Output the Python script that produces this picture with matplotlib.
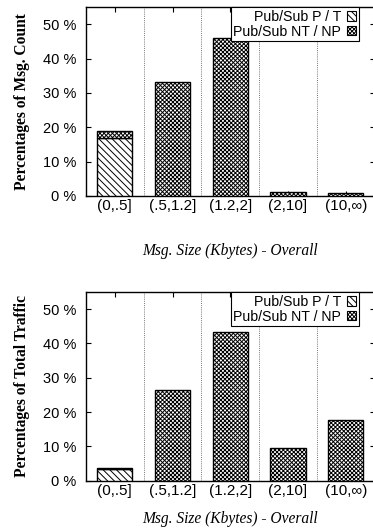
import matplotlib
matplotlib.use("Agg")
import matplotlib.pyplot as plt
from matplotlib.patches import Patch
import numpy as np

# Data
categories = ['(0,.5]', '(.5,1.2]', '(1.2,2]', '(2,10]', '(10,\u221e)']
count_pt = [17.0, 0.0, 0.0, 0.0, 0.0]
count_ntnp = [2.0, 33.1, 45.9, 1.3, 0.8]
traffic_pt = [3.3, 0.0, 0.0, 0.0, 0.0]
traffic_ntnp = [0.3, 26.4, 43.4, 9.4, 17.6]
y_ticks = [0, 10, 20, 30, 40, 50]

plt.rcParams['font.family'] = ['Liberation Sans', 'DejaVu Sans']
plt.rcParams['hatch.linewidth'] = 0.7
plt.rcParams['hatch.color'] = 'black'

fig = plt.figure(figsize=(3.73, 5.31), dpi=100)
ax_top = fig.add_axes([0.2306, 0.6309, 0.7737, 0.3559])
ax_bot = fig.add_axes([0.2306, 0.0947, 0.7737, 0.3554])

HATCH_PT = '\\\\\\\\\\'
HATCH_NT = 'xxxxxxxx'


def draw_panel(ax, pt, ntnp, ylabel, xlabelpad):
    x = np.arange(len(categories))
    width = 0.61
    ax.bar(x, pt, width, color='white', edgecolor='black', hatch=HATCH_PT, linewidth=1.0, zorder=3)
    ax.bar(x, ntnp, width, bottom=pt, color='white', edgecolor='black', hatch=HATCH_NT, linewidth=1.0, zorder=3)

    # dotted separators between categories
    for b in np.arange(0.5, len(categories) - 0.5, 1.0):
        ax.axvline(b, color='#777777', linestyle=(0, (1, 1.2)), linewidth=0.7, zorder=1)

    ax.set_xlim(-0.5, len(categories) - 0.5)
    ax.set_ylim(0, 55)
    ax.set_xticks(x)
    ax.set_xticklabels(categories, fontsize=11)
    ax.set_yticks(y_ticks)
    ax.set_yticklabels([f"{v} %" for v in y_ticks], fontsize=10.5)
    ax.tick_params(direction='in', length=3.5, width=0.8, top=True, right=True)
    ax.tick_params(axis='y', pad=7)
    ax.tick_params(axis='x', pad=2.5)
    for s in ax.spines.values():
        s.set_linewidth(1.0)

    ax.set_ylabel(ylabel, fontsize=11.2, fontweight='bold', family='Liberation Serif')
    ax.yaxis.set_label_coords(-0.194, 0.5)
    ax.set_xlabel('Msg. Size (Kbytes) - Overall', fontsize=11.2, fontstyle='italic',
                  family='Liberation Serif', labelpad=xlabelpad)

    handles = [Patch(facecolor='white', edgecolor='black', hatch=HATCH_PT, linewidth=0.8, label='Pub/Sub P / T'),
               Patch(facecolor='white', edgecolor='black', hatch=HATCH_NT, linewidth=0.8, label='Pub/Sub NT / NP')]
    leg = ax.legend(handles=handles, loc='upper right', bbox_to_anchor=(0.946, 1.0), borderaxespad=0,
                    markerfirst=False, fontsize=10.2, fancybox=False, framealpha=1, edgecolor='black',
                    handlelength=0.65, handleheight=0.65, handletextpad=0.4, labelspacing=0.05,
                    borderpad=0.2)
    leg.get_frame().set_linewidth(0.8)
    for t in leg.get_texts():
        t.set_ha('right')


draw_panel(ax_top, count_pt, count_ntnp, 'Percentages of Msg. Count', 21)
draw_panel(ax_bot, traffic_pt, traffic_ntnp, 'Percentages of Total Traffic', 9)

fig.savefig('out.png', dpi=100)
